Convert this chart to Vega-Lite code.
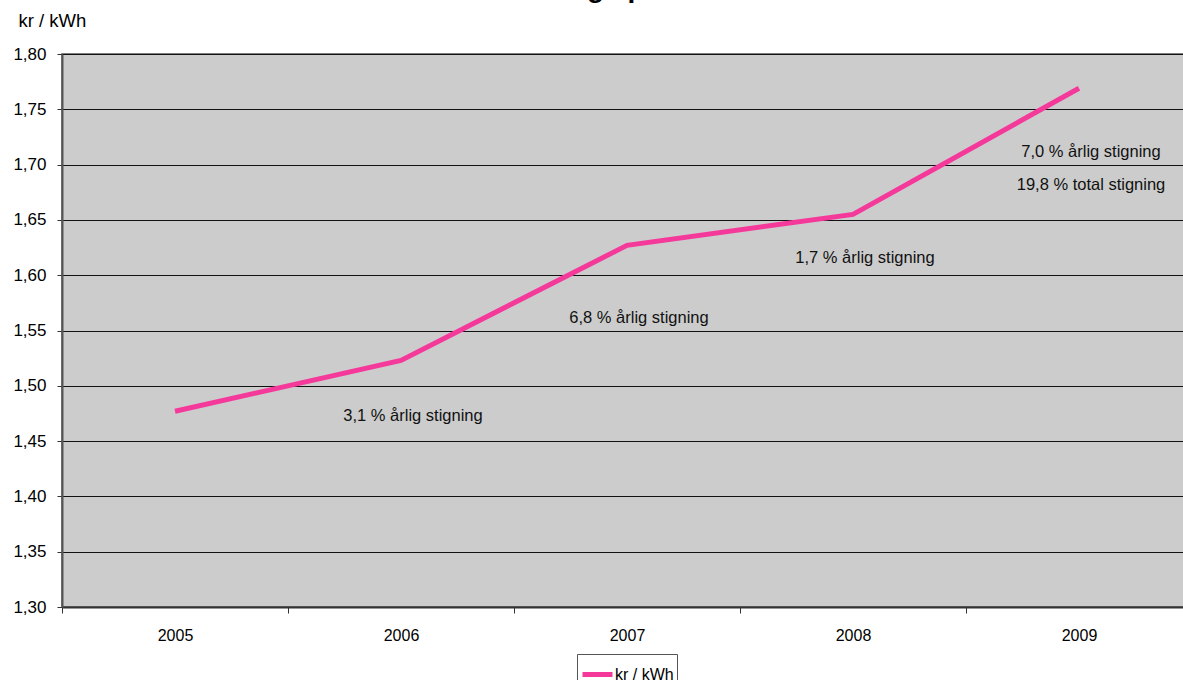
{
  "$schema": "https://vega.github.io/schema/vega-lite/v6.json",
  "autosize": {"type": "none"},
  "width": 1130,
  "height": 553,
  "padding": {"left": 62, "top": 54, "right": 0, "bottom": 73},
  "background": "white",
  "config": {
    "locale": {"number": {"decimal": ",", "thousands": ".", "grouping": [3], "currency": ["", " kr"]}},
    "font": "Liberation Sans",
    "view": {"fill": "#cccccc", "stroke": "#555555", "strokeWidth": 1.5},
    "axis": {"labelFont": "Liberation Sans", "titleFont": "Liberation Sans", "labelColor": "#000000", "titleColor": "#000000"}
  },
  "title": {
    "text": "Prisudvikling i perioden",
    "fontSize": 28,
    "fontWeight": "bold",
    "font": "Liberation Sans",
    "anchor": "middle",
    "frame": "group",
    "baseline": "bottom",
    "offset": 0,
    "dy": 20,
    "dx": -40
  },
  "datasets": {
    "price": [
      {"year": "2005", "value": 1.477, "serie": "kr / kWh"},
      {"year": "2006", "value": 1.523, "serie": "kr / kWh"},
      {"year": "2007", "value": 1.627, "serie": "kr / kWh"},
      {"year": "2008", "value": 1.655, "serie": "kr / kWh"},
      {"year": "2009", "value": 1.769, "serie": "kr / kWh"}
    ],
    "notes": [
      {"year": "2006", "value": 1.4727, "label": "3,1 % årlig stigning"},
      {"year": "2007", "value": 1.5613, "label": "6,8 % årlig stigning"},
      {"year": "2008", "value": 1.6156, "label": "1,7 % årlig stigning"},
      {"year": "2009", "value": 1.7114, "label": "7,0 % årlig stigning"},
      {"year": "2009", "value": 1.6816, "label": "19,8 % total stigning"}
    ]
  },
  "layer": [
    {
      "data": {"name": "price"},
      "mark": {"type": "line", "strokeWidth": 5, "strokeCap": "butt"},
      "encoding": {
        "x": {
          "field": "year",
          "type": "ordinal",
          "bandPosition": 0.5,
          "scale": {"type": "band", "paddingInner": 0, "paddingOuter": 0},
          "axis": {
            "title": null,
            "labelAngle": 0,
            "labelFontSize": 16,
            "labelPadding": 14,
            "tickBand": "extent",
            "tickColor": "#333333",
            "tickSize": 6,
            "domainColor": "#333333",
            "domainWidth": 2,
            "grid": false
          }
        },
        "y": {
          "field": "value",
          "type": "quantitative",
          "scale": {"domain": [1.3, 1.8], "nice": false, "zero": false},
          "axis": {
            "title": "kr / kWh",
            "titleAngle": 0,
            "titleAlign": "left",
            "titleBaseline": "middle",
            "titleX": -44,
            "titleY": -34,
            "titleFontSize": 18.5,
            "titleFontWeight": "normal",
            "values": [1.3, 1.35, 1.4, 1.45, 1.5, 1.55, 1.6, 1.65, 1.7, 1.75, 1.8],
            "format": ".2f",
            "labelFontSize": 17,
            "labelPadding": 11,
            "tickSize": 5,
            "tickColor": "#333333",
            "domainColor": "#555555",
            "domainWidth": 2,
            "grid": true,
            "gridColor": "#111111",
            "gridWidth": 1
          }
        },
        "color": {
          "field": "serie",
          "type": "nominal",
          "scale": {"range": ["#f5399a"]},
          "legend": {
            "title": null,
            "orient": "none",
            "legendX": 515,
            "legendY": 600,
            "symbolType": "stroke",
            "symbolStrokeWidth": 5,
            "symbolSize": 900,
            "labelFontSize": 16,
            "labelOffset": 0,
            "fillColor": "white",
            "strokeColor": "#555555",
            "padding": 3
          }
        }
      }
    },
    {
      "data": {"name": "notes"},
      "mark": {"type": "text", "fontSize": 16.5, "dx": 12, "align": "center", "baseline": "middle", "color": "#111111"},
      "encoding": {
        "x": {"field": "year", "type": "ordinal", "bandPosition": 0.5},
        "y": {"field": "value", "type": "quantitative"},
        "text": {"field": "label"}
      }
    }
  ]
}
